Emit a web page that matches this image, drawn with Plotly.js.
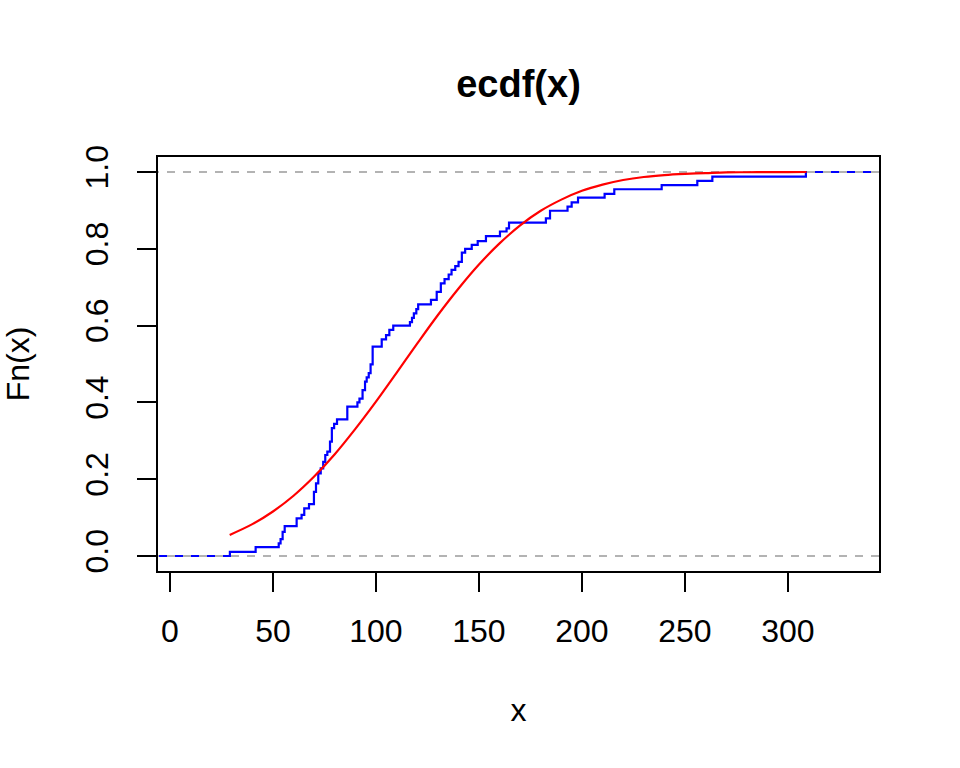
<!DOCTYPE html>
<html>
<head>
<meta charset="utf-8">
<script src="https://cdn.plot.ly/plotly-3.0.1.min.js"></script>
<style>html,body{margin:0;padding:0;background:#fff;}#chart{width:960px;height:768px;}</style>
</head>
<body>
<div id="chart"></div>
<script>
// Empirical CDF: jump locations (x) and the value of Fn(x) after each jump
var ecdfKnots = [29.1, 41.6, 52.8, 53.7, 54.7, 55.7, 61.5, 63.9, 65.2, 67.5,
  69.9, 70.9, 72.0, 73.2, 74.4, 75.4, 76.4, 77.7, 78.6, 79.7,
  81.1, 86.1, 91.0, 92.0, 93.5, 94.7, 95.5, 96.5, 97.4, 98.4,
  102.8, 104.9, 106.5, 108.4, 116.5, 117.5, 118.4, 119.6, 120.5, 126.7,
  129.5, 131.5, 133.3, 135.3, 136.7, 138.5, 140.1, 141.7, 143.3, 146.5,
  149.4, 153.4, 160.2, 163.4, 164.6, 182.5, 184.5, 193.0, 195.0, 198.1,
  211.0, 215.7, 238.7, 256.0, 263.3, 308.7];
var ecdfLevels = [0.011, 0.023, 0.033, 0.044, 0.063, 0.078, 0.098, 0.107, 0.124, 0.135,
  0.167, 0.189, 0.215, 0.228, 0.245, 0.263, 0.272, 0.298, 0.333, 0.344,
  0.356, 0.389, 0.400, 0.410, 0.432, 0.454, 0.465, 0.476, 0.499, 0.545,
  0.564, 0.575, 0.589, 0.600, 0.609, 0.620, 0.632, 0.643, 0.655, 0.667,
  0.688, 0.710, 0.721, 0.733, 0.745, 0.755, 0.766, 0.790, 0.800, 0.810,
  0.820, 0.833, 0.845, 0.853, 0.868, 0.879, 0.899, 0.910, 0.921, 0.933,
  0.943, 0.955, 0.966, 0.977, 0.988, 1.000];

// Fitted (red) curve
var fitX = [29, 40, 50, 60, 70, 80, 90, 100, 110, 120, 130, 140, 150, 160, 170,
  180, 190, 200, 210, 220, 230, 240, 250, 260, 270, 280, 290, 300, 309];
var fitY = [0.055, 0.083, 0.116, 0.157, 0.207, 0.265, 0.331, 0.402, 0.477, 0.553,
  0.627, 0.696, 0.759, 0.814, 0.861, 0.899, 0.928, 0.951, 0.967, 0.979,
  0.987, 0.992, 0.995, 0.997, 0.999, 0.9993, 0.9996, 0.9998, 1.0];

var refLevels = [0, 1];

var xTicks = [0, 50, 100, 150, 200, 250, 300];
var xTickText = ["0", "50", "100", "150", "200", "250", "300"];
var yTicks = [0, 0.2, 0.4, 0.6, 0.8, 1.0];
var yTickText = ["0.0", "0.2", "0.4", "0.6", "0.8", "1.0"];

var xRange = [-5.8, 344.2];
var yRange = [-0.039, 1.039];

var stepX = [xRange[0] - 50].concat(ecdfKnots, [xRange[1] + 50]);
var stepY = [0].concat(ecdfLevels, [ecdfLevels[ecdfLevels.length - 1]]);

var traces = [];
traces.push({
  x: stepX, y: stepY, type: 'scatter', mode: 'lines',
  line: {color: '#0000FF', width: 2.2, shape: 'hv'}, hoverinfo: 'skip', showlegend: false
});
refLevels.forEach(function (lv) {
  traces.push({
    x: [xRange[0] - 50, xRange[1] + 50], y: [lv, lv], type: 'scatter', mode: 'lines',
    line: {color: '#B3B3B3', width: 2.2, dash: '8px,8px'}, hoverinfo: 'skip', showlegend: false
  });
});
traces.push({
  x: fitX, y: fitY, type: 'scatter', mode: 'lines',
  line: {color: '#FF0000', width: 2.2, shape: 'spline', smoothing: 1}, hoverinfo: 'skip', showlegend: false
});

var fontFam = '"Liberation Sans", Arial, sans-serif';
var layout = {
  width: 960, height: 768,
  paper_bgcolor: '#FFFFFF', plot_bgcolor: '#FFFFFF',
  margin: {l: 158, r: 81, t: 157, b: 197, pad: 0},
  font: {family: fontFam, color: '#000000', size: 32},
  showlegend: false,
  title: {
    text: '<b>ecdf(x)</b>', font: {family: fontFam, size: 38, color: '#000000'},
    x: 0.5, xref: 'paper', xanchor: 'center', y: 1 - 84 / 768, yref: 'container', yanchor: 'middle'
  },
  xaxis: {
    range: xRange, autorange: false, tickmode: 'array', tickvals: xTicks, ticktext: xTickText,
    ticks: 'outside', ticklen: 19, tickwidth: 2, tickcolor: '#000000',
    showline: true, mirror: true, linecolor: '#000000', linewidth: 2,
    showgrid: false, zeroline: false, ticklabelstandoff: 12,
    tickfont: {family: fontFam, size: 32, color: '#000000'},
    title: {text: 'x', font: {family: fontFam, size: 32, color: '#000000'}, standoff: 50}
  },
  yaxis: {
    range: yRange, autorange: false, tickmode: 'array', tickvals: yTicks, ticktext: yTickText,
    ticks: 'outside', ticklen: 19, tickwidth: 2, tickcolor: '#000000', tickangle: -90,
    showline: true, mirror: true, linecolor: '#000000', linewidth: 2,
    showgrid: false, zeroline: false, ticklabelstandoff: 16,
    tickfont: {family: fontFam, size: 32, color: '#000000'},
    title: {text: 'Fn(x)', font: {family: fontFam, size: 32, color: '#000000'}, standoff: 40}
  }
};

Plotly.newPlot('chart', traces, layout, {staticPlot: true, displayModeBar: false});
</script>
</body>
</html>
